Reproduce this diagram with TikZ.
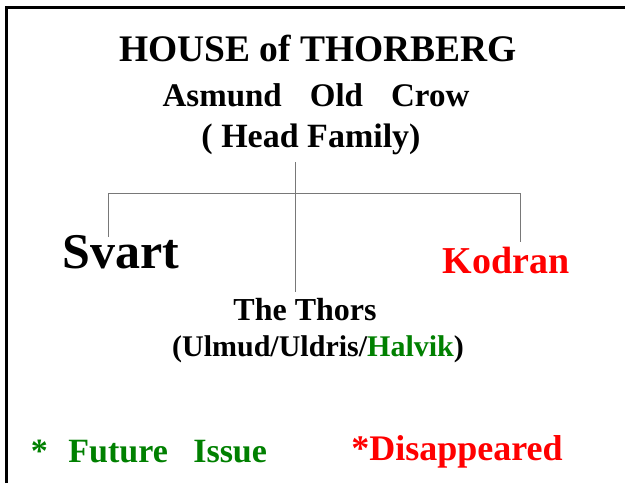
\documentclass[tikz,border=0pt]{standalone}
\usepackage{fontspec}
\setmainfont{Liberation Serif}
\definecolor{issuegreen}{RGB}{0,128,0}
\definecolor{lostred}{RGB}{255,0,0}
\definecolor{treegray}{RGB}{120,120,120}
\tikzset{
  label/.style={inner sep=1pt,font=\bfseries},
  tree/.style={treegray,line width=1pt}
}
\begin{document}
\begin{tikzpicture}[x=1pt,y=-1pt]
      \useasboundingbox (0,0) rectangle (625,483);
      \draw[line width=3pt] (6,483) -- (6,7) -- (625,7);

      \node[label,font=\bfseries\fontsize{37.5}{40}\selectfont] (title) at (318,48) {HOUSE of THORBERG};
      \node[label,font=\bfseries\fontsize{33}{36}\selectfont] (head) at (316,95) {Asmund\hspace{0.85em}Old\hspace{0.85em}Crow};
      \node[label,font=\bfseries\fontsize{34}{36}\selectfont] (note) at (311,139) {( Head Family)};

      \node[label,font=\bfseries\fontsize{50}{52}\selectfont] (svart) at (121,252) {Svart};
      \node[label,text=lostred,font=\bfseries\fontsize{38}{44}\selectfont] (kodran) at (506,260) {Kodran};
      \node[label,font=\bfseries\fontsize{32}{34}\selectfont] (thors) at (305,310) {The Thors};
      \node[label,font=\bfseries\fontsize{30}{32}\selectfont] (names) at (318,349) {(Ulmud/Uldris/\textcolor{issuegreen}{Halvik})};

      \node[label,text=issuegreen,font=\bfseries\fontsize{34}{36}\selectfont] (future) at (149,451) {*\hspace{0.6em}Future\hspace{0.75em}Issue};
      \node[label,text=lostred,font=\bfseries\fontsize{36}{38}\selectfont] (gone) at (457,452) {*Disappeared};

      % family lines
      \coordinate (fork) at (295,193);
      \draw[tree] (fork |- 0,162) -- (fork |- 0,292);
      \draw[tree] (108,237) -- (108,193) -- (520,193) -- (520,242);
    \end{tikzpicture}
\end{document}
